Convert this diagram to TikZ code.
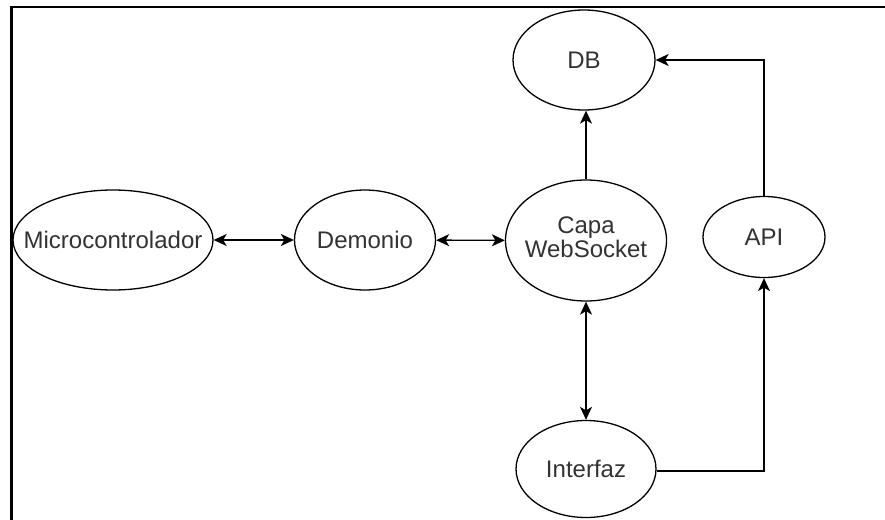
\documentclass[tikz,border=0pt]{standalone}
\usepackage{fontspec}
\setmainfont{Liberation Sans}
\usetikzlibrary{shapes.geometric,arrows.meta}
\definecolor{txt}{RGB}{50,50,50}
\tikzset{
  bub/.style={ellipse,draw,line width=1.3pt,inner sep=0pt,text=txt,
    font=\fontsize{24}{27}\selectfont},
  tip/.tip={Stealth[length=13pt,width=12pt,inset=3.5pt]},
  conn/.style={line width=1.4pt,-tip},
  conn2/.style={line width=1.4pt,tip-tip}
}
\newcommand{\zw}[1]{\makebox[0pt]{#1}}
\begin{document}
\begin{tikzpicture}[x=1pt,y=-1pt]
\useasboundingbox (0,0) rectangle (885,519);
\draw[line width=2.4pt] (11.5,520) -- (11.5,7) -- (886,7);
\node[bub,minimum width=200pt,minimum height=100pt] (mc) at (113,240) {\zw{Microcontrolador}};
\node[bub,minimum width=141pt,minimum height=100pt] (dem) at (365,240) {\zw{Demonio}};
\node[bub,minimum width=161pt,minimum height=121pt] (ws) at (586,240.5) {\zw{\begin{tabular}{@{}c@{}}Capa\\[-3pt]WebSocket\end{tabular}}};
\node[bub,minimum width=142pt,minimum height=100pt] (db) at (584,60) {\zw{DB}};
\node[bub,minimum width=122pt,minimum height=81pt] (api) at (764,237) {\zw{API}};
\node[bub,minimum width=140pt,minimum height=97pt] (int) at (586,469) {\zw{Interfaz}};
\draw[conn2] (mc) -- (dem);
\draw[conn2] (dem) -- (ws);
\draw[conn] (ws.north) -- (ws.north |- db.south);
\draw[conn2] (ws.south) -- (int.north);
\draw[conn] (api.north) |- (db.east);
\draw[conn] (int.east |- 0,471) -| (api.south);
\end{tikzpicture}
\end{document}
